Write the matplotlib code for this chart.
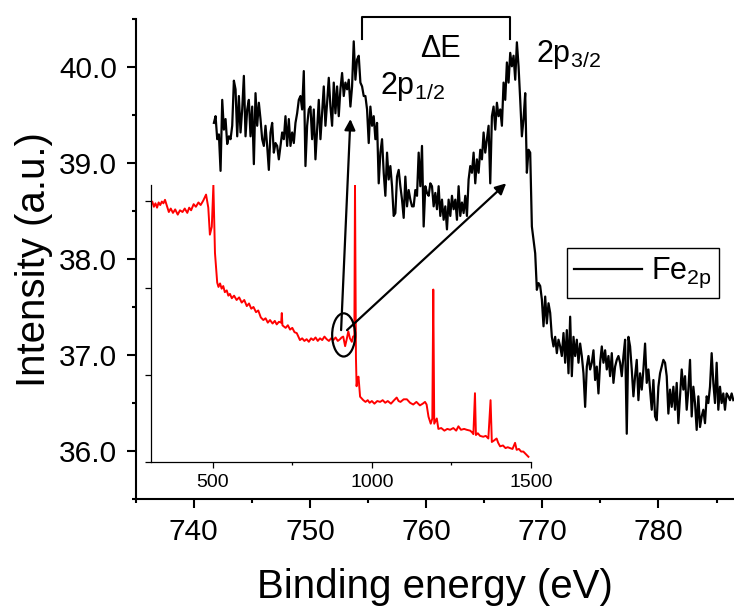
import numpy as np
import matplotlib
matplotlib.use("Agg")
import matplotlib.pyplot as plt
from matplotlib.ticker import MultipleLocator, FormatStrFormatter
from matplotlib.patches import Ellipse

plt.rcParams['font.family'] = ['Liberation Sans', 'DejaVu Sans']
plt.rcParams['mathtext.fontset'] = 'custom'
plt.rcParams['mathtext.rm'] = 'Liberation Sans'
plt.rcParams['mathtext.it'] = 'Liberation Sans:italic'

# Fe 2p high resolution scan (uniform energy grid, eV)
fe2p_start = 741.73
fe2p_stop = 786.44
fe2p_int = [
    39.42, 39.49, 39.25, 39.30, 38.92, 39.66, 39.35, 39.46, 39.20, 39.28,
    39.25, 39.39, 39.86, 39.77, 39.28, 39.70, 39.32, 39.56, 39.91, 39.28,
    39.56, 39.66, 39.28, 39.59, 38.99, 39.73, 39.39, 39.63, 39.46, 39.25,
    39.18, 39.39, 39.18, 38.93, 39.32, 39.42, 39.11, 39.21, 39.18, 39.04,
    39.18, 39.32, 39.25, 39.49, 39.18, 39.46, 39.18, 39.32, 39.21, 39.42,
    39.52, 39.66, 39.70, 39.56, 39.96, 38.97, 39.39, 39.56, 39.59, 39.25,
    39.56, 39.04, 39.35, 39.66, 39.25, 39.52, 39.80, 39.39, 39.63, 39.89,
    39.59, 39.39, 39.84, 39.52, 39.80, 39.49, 39.77, 39.94, 39.70, 39.84,
    39.77, 39.87, 39.59, 39.80, 40.27, 39.87, 40.08, 40.12, 39.84, 39.80,
    39.70, 39.70, 39.56, 39.21, 39.59, 39.39, 39.49, 39.25, 39.42, 38.79,
    39.11, 39.25, 38.90, 38.66, 39.11, 38.83, 38.97, 38.76, 38.45, 38.48,
    38.86, 38.93, 38.76, 38.62, 38.43, 38.86, 38.55, 38.72, 38.62, 38.55,
    38.55, 38.72, 38.66, 39.11, 38.76, 39.18, 38.34, 38.76, 38.69, 38.66,
    38.79,
    38.76, 38.55, 38.69, 38.52, 38.76, 38.45, 38.62, 38.41, 38.55, 38.31,
    38.62, 38.45, 38.66, 38.52, 38.62, 38.41, 38.76, 38.45, 38.59, 38.48,
    38.66, 38.45, 38.83, 38.97, 38.90, 39.11, 38.79, 39.04, 38.90, 39.14,
    39.04, 39.32, 39.11, 39.25, 39.39, 38.79, 39.49, 39.59, 39.35, 39.63,
    39.49, 39.56, 39.39, 39.84, 39.66, 40.05, 39.84, 40.15, 40.01, 40.12,
    39.87, 40.26, 40.01, 39.66, 39.28, 39.46, 39.73, 38.90, 39.14, 39.11,
    38.34, 38.20,
    38.06, 37.68, 37.75, 37.72, 37.58, 37.30, 37.61, 37.33, 37.54, 37.44,
    37.19, 37.09, 37.19, 37.02, 37.16, 37.09, 36.99, 37.23, 36.92, 37.26,
    36.81, 37.40, 36.78, 37.19, 36.99, 37.16, 36.92, 37.12, 36.99, 36.81,
    36.46, 36.88, 36.99, 36.85, 36.92, 37.05, 36.74, 36.88, 36.60, 36.92,
    37.09, 36.92, 37.05, 36.85, 36.99, 36.78, 37.02, 36.71, 36.88, 36.95,
    36.99, 36.92, 36.78, 36.99, 37.16, 36.18, 37.19, 37.09, 36.85, 36.57,
    36.78, 36.95, 36.53, 36.81, 36.64, 36.85, 37.12, 36.71, 36.85, 36.64,
    36.43, 36.74, 36.36, 36.32, 36.67, 36.81, 36.88, 36.95, 36.92, 36.78,
    36.39, 36.64, 36.46, 36.67, 36.43, 36.71, 36.29, 36.57, 36.85, 36.64,
    36.78, 36.43, 36.64, 36.95, 36.36, 36.67, 36.50, 36.22, 36.57, 36.25,
    36.36, 36.43, 36.29, 36.57, 36.50, 36.67, 37.02, 36.71, 36.50, 36.92,
    36.43, 36.67, 36.50, 36.60, 36.43, 36.60, 36.57, 36.53, 36.60, 36.53,
]

# survey scan shown in the inset (energy in eV, intensity in arb. units)
survey_ev = [
    305, 310, 315, 320, 325, 330, 335, 340, 345, 350, 356, 362, 368, 375,
    382, 390, 397, 405, 412, 420, 426, 432, 440, 447, 455, 462, 470, 479,
    486, 491, 497, 502, 507, 514, 518, 523, 528, 533, 538, 544, 549, 554,
    560, 567, 575, 583, 591, 599, 607, 614, 621, 628, 636, 643, 651, 659,
    666, 673, 680, 688, 695, 701, 708, 715, 717, 719, 722, 729, 736, 743,
    750, 757, 764, 769, 774, 781, 788, 795, 802, 809, 816, 823, 830, 837,
    844, 851, 858, 865, 872, 879, 886, 893, 900, 905, 910, 916, 921, 926,
    931, 937, 941, 945, 947, 950, 952, 955, 958, 963, 968, 973, 980, 987,
    993, 1000, 1008, 1017, 1026, 1034, 1042, 1050, 1060, 1070, 1078, 1084,
    1090, 1100, 1110, 1120, 1130, 1140, 1151, 1160, 1167, 1172, 1178, 1185,
    1190, 1193, 1196, 1204, 1209, 1218, 1228, 1237, 1246, 1256, 1265, 1272,
    1280, 1290, 1298, 1309, 1315, 1319, 1324, 1327, 1333, 1340, 1350, 1358,
    1366, 1373, 1377, 1385, 1392, 1397, 1403, 1412, 1420, 1427, 1434, 1442,
    1450, 1455, 1462, 1469, 1476, 1484, 1492,
]
survey_int = [
    2.95, 2.99, 2.93, 2.97, 2.92, 2.98, 2.95, 2.99, 2.97, 3.01, 2.94, 2.87,
    2.91, 2.86, 2.90, 2.84, 2.89, 2.87, 2.91, 2.86, 2.92, 2.89, 2.96, 2.93,
    2.98, 2.95, 3.00, 3.07, 2.92, 2.61, 2.70, 3.18, 2.40, 2.06, 2.01, 2.05,
    1.99, 2.02, 1.95, 1.97, 1.91, 1.93, 1.88, 1.91, 1.86, 1.89, 1.83, 1.86,
    1.79, 1.82, 1.76, 1.78, 1.72, 1.74, 1.66, 1.63, 1.65, 1.60, 1.63, 1.59,
    1.62, 1.58, 1.61, 1.60, 1.71, 1.57, 1.56, 1.54, 1.57, 1.52, 1.54, 1.49,
    1.48, 1.44, 1.40, 1.42, 1.39, 1.41, 1.38, 1.42, 1.40, 1.43, 1.39, 1.42,
    1.40, 1.44, 1.41, 1.39, 1.42, 1.40, 1.43, 1.39, 1.41, 1.43, 1.44, 1.33,
    1.41, 1.50, 1.42, 1.38, 1.44, 1.45, 3.18, 1.20, 0.87, 0.96, 0.98, 0.75,
    0.73, 0.71, 0.69, 0.71, 0.68, 0.70, 0.67, 0.70, 0.69, 0.71, 0.68, 0.70,
    0.67, 0.71, 0.74, 0.70, 0.69, 0.72, 0.72, 0.68, 0.66, 0.69, 0.65, 0.67,
    0.69, 0.66, 0.52, 0.44, 0.50, 1.98, 0.44, 0.50, 0.38, 0.39, 0.36, 0.38,
    0.37, 0.39, 0.36, 0.41, 0.37, 0.38, 0.37, 0.36, 0.34, 0.32, 0.79, 0.31,
    0.33, 0.30, 0.29, 0.30, 0.27, 0.71, 0.23, 0.25, 0.27, 0.22, 0.18, 0.19,
    0.16, 0.17, 0.16, 0.15, 0.22, 0.14, 0.15, 0.12, 0.12, 0.09, 0.06,
]

fe2p_ev = np.linspace(fe2p_start, fe2p_stop, len(fe2p_int))

fig = plt.figure(figsize=(7.34, 6.06), dpi=100)
fig.patch.set_facecolor('white')

ax = fig.add_axes([0.1849, 0.1766, 0.8151, 0.7916])
ax.patch.set_alpha(0)
ax.set_zorder(2)

ins = fig.add_axes([0.2053, 0.2376, 0.5181, 0.4571])
ins.set_zorder(1)
ins.patch.set_alpha(0)

# main plot
ax.plot(fe2p_ev, fe2p_int, color='black', lw=1.6, label=r'$\mathregular{Fe_{2p}}$')
ax.set_xlim(735, 786.5)
ax.set_ylim(35.5, 40.5)
ax.set_xticks([740, 750, 760, 770, 780])
ax.xaxis.set_minor_locator(MultipleLocator(5))
ax.set_yticks([36, 37, 38, 39, 40])
ax.yaxis.set_minor_locator(MultipleLocator(0.5))
ax.yaxis.set_major_formatter(FormatStrFormatter('%.1f'))
for s in ['top', 'right']:
    ax.spines[s].set_visible(False)
for s in ['left', 'bottom']:
    ax.spines[s].set_linewidth(1.5)
ax.tick_params(which='major', direction='out', length=6.5, width=1.5,
               labelsize=21.5, pad=7)
ax.tick_params(which='minor', direction='out', length=3.2, width=1.5)
ax.set_xlabel('Binding energy (eV)', fontsize=29, labelpad=16)
ax.set_ylabel('Intensity (a.u.)', fontsize=29, labelpad=4)

# peak labels and splitting bracket
ax.text(756.06, 39.72, r'2p$_{\mathregular{1/2}}$', fontsize=22, va='baseline')
ax.text(769.47, 40.05, r'2p$_{\mathregular{3/2}}$', fontsize=22, va='baseline')
ax.text(761.22, 40.11, '\u0394E', fontsize=22, ha='center', va='baseline')
ax.plot([754.48, 754.48, 767.23, 767.23], [40.29, 40.527, 40.527, 40.29],
        color='black', lw=1.5, clip_on=False)

# ellipse on the survey and zoom arrows
ax.add_patch(Ellipse((752.9, 37.21), 1.98, 0.45, fill=False,
                     edgecolor='black', lw=1.6))
arrow = dict(arrowstyle='-|>', color='black', lw=1.6, mutation_scale=16,
             shrinkA=0, shrinkB=0)
ax.annotate('', xy=(753.48, 39.46), xytext=(752.68, 37.26), arrowprops=arrow)
ax.annotate('', xy=(766.89, 38.79), xytext=(753.19, 37.26), arrowprops=arrow)

leg = ax.legend(loc='upper left', bbox_to_anchor=(0.772, 0.590),
                bbox_transform=fig.transFigure, fontsize=22, frameon=True,
                fancybox=False, edgecolor='black', framealpha=1,
                handlelength=2.2, handletextpad=0.3, borderpad=0.25,
                borderaxespad=0)
leg.get_frame().set_linewidth(1.0)

# inset survey spectrum
ins.plot(survey_ev, survey_int, color='red', lw=1.4)
ins.set_xlim(305, 1500)
ins.set_ylim(0, 3.18)
ins.set_xticks([500, 1000, 1500])
ins.xaxis.set_minor_locator(MultipleLocator(250))
ins.set_yticks([0, 1, 2, 3])
ins.set_yticklabels([])
for s in ['top', 'right']:
    ins.spines[s].set_visible(False)
for s in ['left', 'bottom']:
    ins.spines[s].set_linewidth(0.9)
ins.tick_params(which='major', direction='out', length=4.3, width=0.9,
                labelsize=14, pad=4)
ins.tick_params(which='minor', direction='out', length=2.2, width=0.9)

fig.savefig('out.png', dpi=100)
